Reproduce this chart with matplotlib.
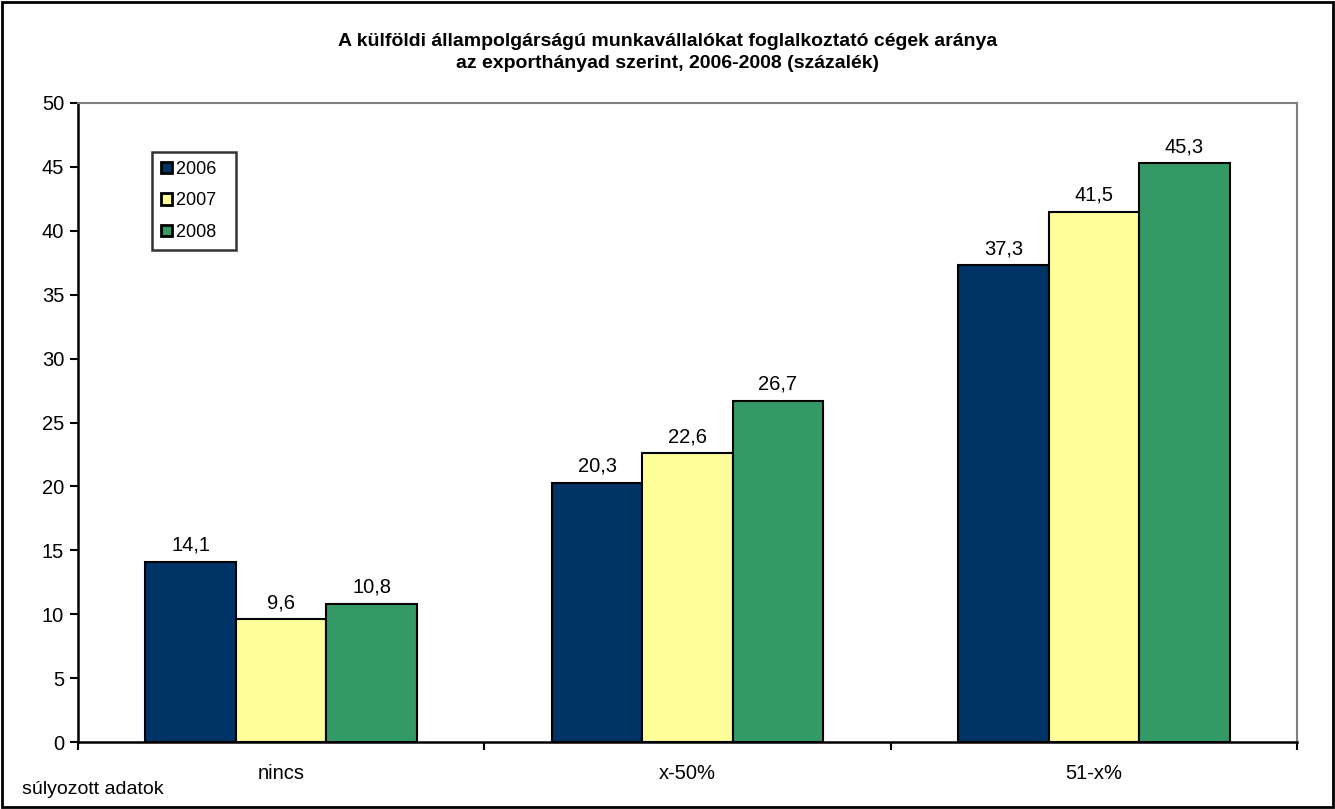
import matplotlib
matplotlib.use("Agg")
import matplotlib.pyplot as plt
import numpy as np
from matplotlib.patches import Rectangle

plt.rcParams["font.family"] = ["Liberation Sans", "DejaVu Sans"]

categories = ["nincs", "x-50%", "51-x%"]
years = ["2006", "2007", "2008"]
values = {
    "2006": [14.1, 20.3, 37.3],
    "2007": [9.6, 22.6, 41.5],
    "2008": [10.8, 26.7, 45.3],
}
colors = {"2006": "#003366", "2007": "#FFFF99", "2008": "#339966"}

fig = plt.figure(figsize=(13.35, 8.09), dpi=100)
ax = fig.add_axes([78 / 1335, 1 - 742 / 809, (1297 - 78) / 1335, (742 - 103) / 809])

x = np.arange(len(categories))
width = 0.2227
for i, yr in enumerate(years):
    bars = ax.bar(x + (i - 1) * width, values[yr], width, color=colors[yr],
                  edgecolor="black", linewidth=1.5, label=yr, zorder=2)
    for b, v in zip(bars, values[yr]):
        ax.text(b.get_x() + b.get_width() / 2, v + 0.55, f"{v:.1f}".replace(".", ","),
                ha="center", va="bottom", fontsize=14.5)

ax.set_xlim(-0.5, 2.5)
ax.set_ylim(0, 50)
ax.set_yticks(np.arange(0, 51, 5))
ax.set_xticks([-0.5, 0.5, 1.5, 2.5])
ax.set_xticklabels([])
ax.set_xticks(x, minor=True)
ax.set_xticklabels(categories, minor=True, fontsize=14.5)
ax.tick_params(axis="x", which="minor", length=0, pad=16)
ax.tick_params(axis="x", which="major", direction="out", length=6, width=1.5)
ax.tick_params(axis="y", direction="out", length=6, width=1.5, labelsize=14.5, pad=4)

for side in ["top", "right"]:
    ax.spines[side].set_color("#808080")
    ax.spines[side].set_linewidth(1.5)
for side in ["left", "bottom"]:
    ax.spines[side].set_color("black")
    ax.spines[side].set_linewidth(1.8)

# trailing spaces widen the legend box a little on the right, as in the original
handles, labels = ax.get_legend_handles_labels()
leg = ax.legend(handles, [lab + "  " for lab in labels],
                loc="upper left", bbox_to_anchor=(74 / 1219, 1 - 49 / 639), fontsize=13,
                frameon=True, fancybox=False, handlelength=0.6, handleheight=0.6,
                handletextpad=0.25, labelspacing=0.8, borderpad=0.5, borderaxespad=0)
leg.get_frame().set_edgecolor("black")
leg.get_frame().set_linewidth(1.8)
for h in leg.legend_handles:
    h.set_linewidth(2)

fig.text(0.5, 1 - 42 / 809, "A külföldi állampolgárságú munkavállalókat foglalkoztató cégek aránya",
         ha="center", va="center", fontsize=14, fontweight="bold")
fig.text(0.5, 1 - 64 / 809, "az exporthányad szerint, 2006-2008 (százalék)",
         ha="center", va="center", fontsize=14, fontweight="bold")
fig.text(22 / 1335, 1 - 790 / 809, "súlyozott adatok", ha="left", va="center", fontsize=14)

fig.patches.append(Rectangle((2 / 1335, 2 / 809), 1 - 4 / 1335, 1 - 4 / 809,
                             transform=fig.transFigure, fill=False,
                             edgecolor="black", linewidth=2))

fig.savefig("out.png", dpi=100)
